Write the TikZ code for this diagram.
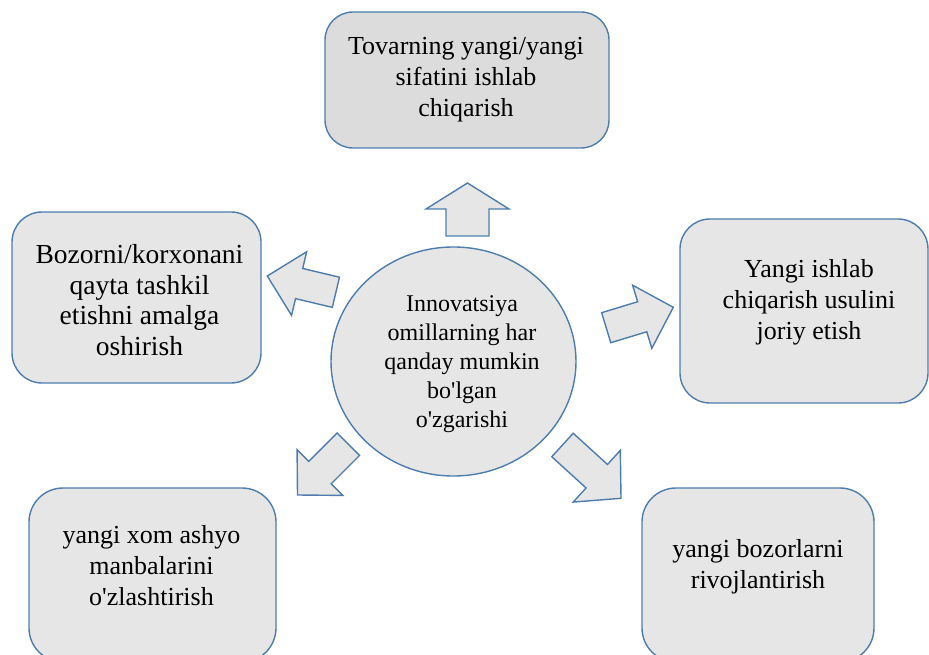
\documentclass[tikz,border=0pt]{standalone}
\usepackage{fontspec}
\setmainfont{Liberation Serif}[Ligatures=TeXOff]
\usetikzlibrary{calc,shapes.geometric}
\definecolor{edgeblue}{HTML}{4E7DAD}
\definecolor{boxfill}{HTML}{E6E6E6}
\definecolor{topfill}{HTML}{DCDCDC}
\tikzset{
  box/.style={draw=edgeblue, line width=1.4pt, fill=boxfill, inner sep=0pt},
  boxtext/.style={align=center, inner sep=0pt, font=\fontsize{26}{31}\selectfont},
  arrowshape/.style={draw=edgeblue, line width=1.4pt, fill=boxfill, line join=miter},
}
% block arrow: tail coord, tip coord, shaft half width, head half width, head length
\newcommand{\blkarrow}[5]{%
  \coordinate (hb) at ($(#2)!#5!(#1)$);
  \draw[arrowshape] ($(#1)!#3!90:(#2)$) -- ($(hb)!#3!90:(#2)$) -- ($(hb)!#4!90:(#2)$)
    -- (#2) -- ($(hb)!#4!-90:(#2)$) -- ($(hb)!#3!-90:(#2)$) -- ($(#1)!#3!-90:(#2)$) -- cycle;
}
\begin{document}
\begin{tikzpicture}[x=1pt,y=-1pt]
\useasboundingbox (0,0) rectangle (929,655);
\begin{scope}
\clip (0,0) rectangle (929,655);
% boxes
\node[box, fill=topfill, rounded corners=28pt, minimum width=284pt, minimum height=136pt] (top) at (467,80) {};
\node[boxtext] (toptext) at (466,80) {Tovarning yangi/yangi\\sifatini ishlab\\chiqarish};

\node[box, rounded corners=30pt, minimum width=249pt, minimum height=171pt] (left) at (136.5,297.5) {};
\node[boxtext, font=\fontsize{27.5}{30.5}\selectfont] (lefttext) at (139.5,300) {Bozorni/korxonani\\qayta tashkil\\etishni amalga\\oshirish};

\node[box, rounded corners=30pt, minimum width=248pt, minimum height=184pt] (right) at (804,311) {};
\node[boxtext] (righttext) at (809,302.5) {Yangi ishlab\\chiqarish usulini\\joriy etish};

\node[box, rounded corners=34pt, minimum width=247pt, minimum height=174pt] (bl) at (152.5,575) {};
\node[boxtext] (bltext) at (151.5,566) {yangi xom ashyo\\manbalarini\\o'zlashtirish};

\node[box, rounded corners=34pt, minimum width=232pt, minimum height=174pt] (br) at (758,575) {};
\node[boxtext] (brtext) at (758,566.5) {yangi bozorlarni\\rivojlantirish};

% center ellipse
\node[box, ellipse, minimum width=245pt, minimum height=229pt] (center) at (453.5,361.5) {};
\node[boxtext, font=\fontsize{24}{29}\selectfont] (centertext) at (462,364) {Innovatsiya\\omillarning har\\qanday mumkin\\bo'lgan\\o'zgarishi};

% arrows
\coordinate (uT) at (467.5,236);   \coordinate (uP) at (467.5,183);
\coordinate (lT) at (335.9,292.3); \coordinate (lP) at (267.3,276);
\coordinate (rT) at (606.2,327.7); \coordinate (rP) at (673.3,307.3);
\coordinate (blT) at (348.3,444.2); \coordinate (blP) at (297.5,495);
\coordinate (brT) at (562.5,445);  \coordinate (brP) at (621,498.3);
\blkarrow{uT}{uP}{21.5pt}{41.5pt}{26pt}
\blkarrow{lT}{lP}{15.5pt}{32.7pt}{32.7pt}
\blkarrow{rT}{rP}{15.7pt}{33pt}{32.5pt}
\blkarrow{blT}{blP}{15.9pt}{32.4pt}{31.8pt}
\blkarrow{brT}{brP}{15.9pt}{35pt}{32.8pt}
\end{scope}
\end{tikzpicture}
\end{document}
